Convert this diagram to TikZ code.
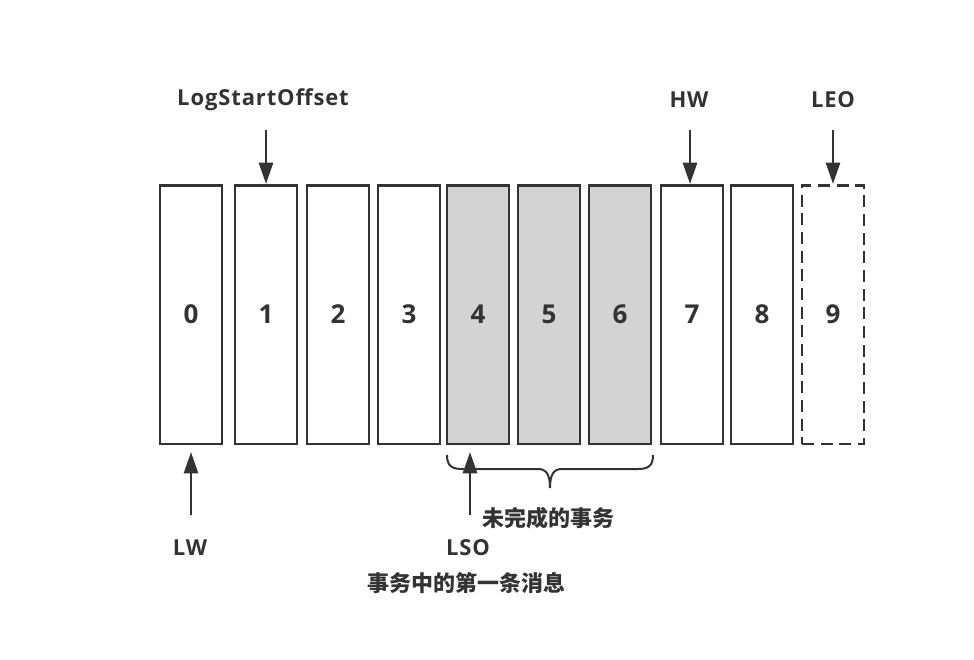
\documentclass[tikz,border=0pt]{standalone}
\usepackage{fontspec}
\setmainfont{Open Sans}
\newfontfamily\cjk{Noto Sans CJK SC}
\usetikzlibrary{arrows.meta}
\definecolor{ink}{HTML}{333333}
\definecolor{grayfill}{HTML}{D3D3D3}
\begin{document}
\begin{tikzpicture}[x=0.75pt,y=-0.75pt,
  cell/.style={draw=ink,line width=2pt,minimum width=46.5pt,minimum height=194pt,inner sep=0pt,
    font=\fontsize{19.5}{21}\selectfont\bfseries,text=ink},
  shaded/.style={cell,fill=grayfill},
  lbl/.style={font=\fontsize{16.5}{18}\selectfont\bfseries\addfontfeature{LetterSpace=4},text=ink,inner sep=0pt},
  zh/.style={font=\cjk\fontsize{16.5}{18}\selectfont\bfseries,text=ink,inner sep=0pt},
  ptr/.style={draw=ink,line width=2pt,-{Triangle[length=16pt,width=10.5pt]}}]
\useasboundingbox (0,0) rectangle (974,660);
\node[cell]   (c0) at (191,314.5) {0};
\node[cell]   (c1) at (266,314.5) {1};
\node[cell]   (c2) at (338,314.5) {2};
\node[cell]   (c3) at (409,314.5) {3};
\node[shaded] (c4) at (478,314.5) {4};
\node[shaded] (c5) at (549,314.5) {5};
\node[shaded] (c6) at (620,314.5) {6};
\node[cell]   (c7) at (692,314.5) {7};
\node[cell]   (c8) at (762,314.5) {8};
\node[cell,dash pattern=on 9pt off 5pt] (c9) at (833,314.5) {9};
% top labels
\node[lbl] (lso) at (263,100) {LogStartOffset};
\node[lbl] (hw)  at (689,100) {HW};
\node[lbl] (leo) at (833,100) {LEO};
\coordinate (t1) at (266,130);
\coordinate (t7) at (690,130);
\coordinate (t9) at (833,130);
\draw[ptr] (t1) -- (266,184);
\draw[ptr] (t7) -- (690,184);
\draw[ptr] (t9) -- (833,184);
% bottom
\coordinate (b0) at (191,515);
\coordinate (b4) at (470,515);
\draw[ptr] (b0) -- (191,452);
\draw[ptr] (b4) -- (470,452);
\node[lbl] (lw) at (190,548) {LW};
\node[lbl] (lsol) at (468,548) {LSO};
\node[zh] (tx) at (548,518) {未完成的事务};
\node[zh] (first) at (466,583) {事务中的第一条消息};
% brace
\draw[draw=ink,line width=1.5pt]
  (447,455) .. controls (447,466) and (452,469) .. (462,469)
  -- (538,469) .. controls (546,469) and (550,474) .. (550,488)
  .. controls (550,474) and (554,469) .. (562,469)
  -- (638,469) .. controls (648,469) and (653,466) .. (653,455);
\end{tikzpicture}
\end{document}
